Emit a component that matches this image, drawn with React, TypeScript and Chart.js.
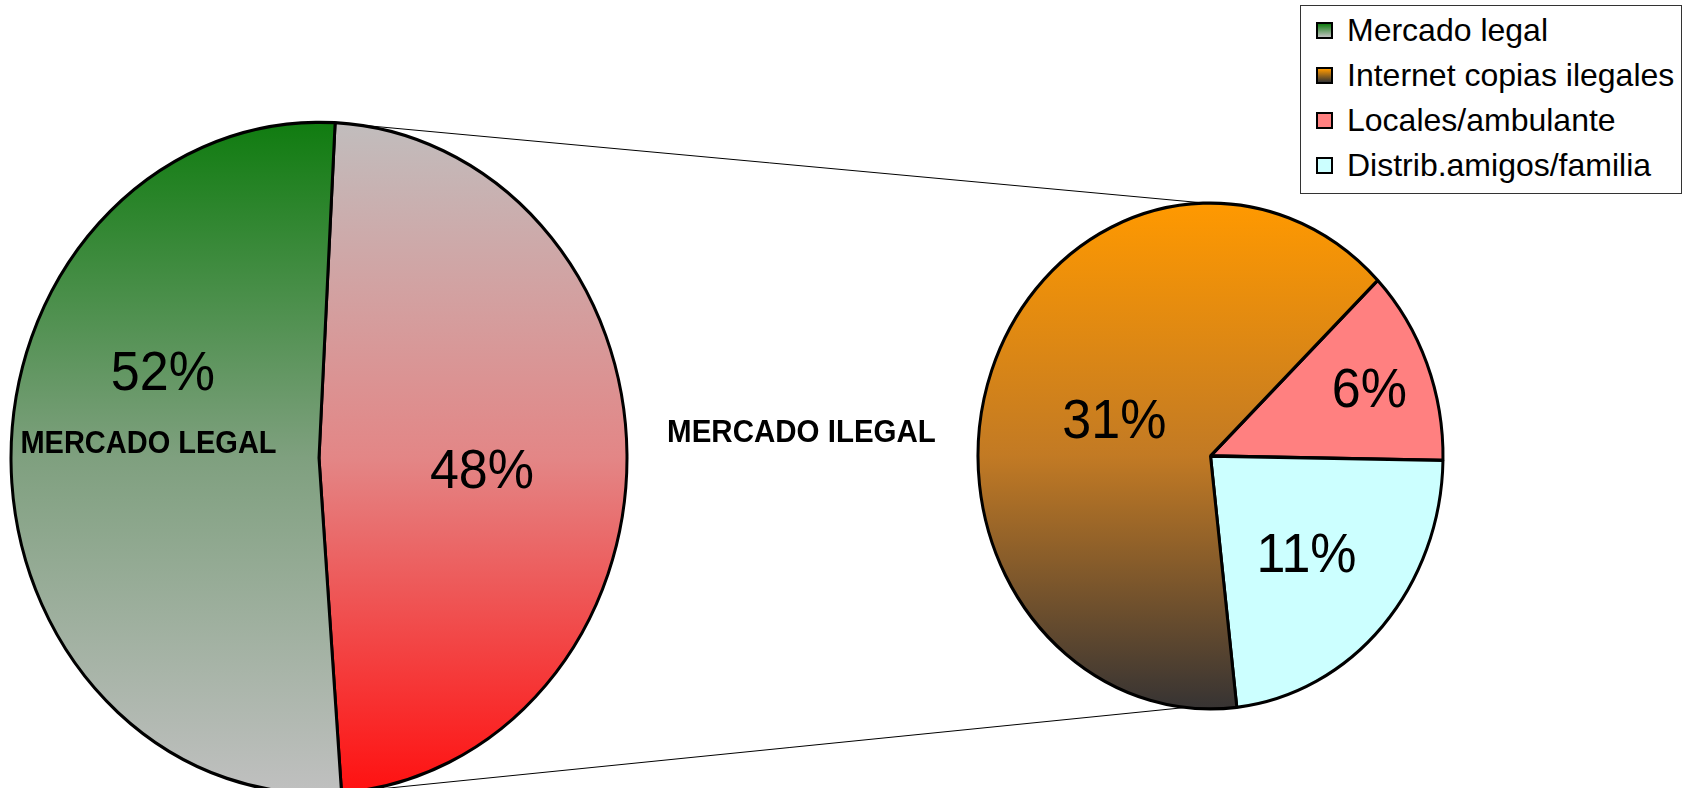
import React, { useEffect, useRef } from "react";
import { Chart, registerables } from "chart.js";

Chart.register(...registerables);

// ---------- data ----------
const mainCategories = ["Mercado ilegal", "Mercado legal"];
const mainValues = [48, 52];
const mainLabels = ["48%", "52%"];

const subCategories = ["Locales/ambulante", "Distrib.amigos/familia", "Internet copias ilegales"];
const subValues = [6, 11, 31];
const subLabels = ["6%", "11%", "31%"];

const legendLabels = ["Mercado legal", "Internet copias ilegales", "Locales/ambulante", "Distrib.amigos/familia"];
const mainTitle = "MERCADO LEGAL";
const subTitle = "MERCADO ILEGAL";

// ---------- layout / style ----------
const W = 1691;
const H = 788;
const FONT = "'Liberation Sans', Arial, sans-serif";

const LEFT = { cx: 319, cy: 458, r: 308, sy: 1.09, rotation: 3 };
const RIGHT = { cx: 1210.5, cy: 456, r: 232.5, sy: 1.088, rotation: 46 };

const mainLabelPlacement = [
  { f: 0.53, shift: 3.8 },
  { f: 0.57, shift: 27.8 },
];
const subLabelPlacement = [
  { f: 0.735, shift: -0.1 },
  { f: 0.56, shift: 0.25 },
  { f: 0.44, shift: 0.25 },
];

const legalStops: [number, string][] = [[0, "#107c10"], [0.5, "#7fa07f"], [1, "#c0c0c0"]];
const illegalStops: [number, string][] = [[0, "#c1bdbd"], [0.5, "#e38686"], [1, "#ff1010"]];
const internetStops: [number, string][] = [[0, "#ff9900"], [0.5, "#c27a24"], [1, "#363333"]];
const localesColor = "#ff8080";
const distribColor = "#ccffff";

function vGrad(chart: any, geom: any, stops: [number, string][]) {
  const g = chart.ctx.createLinearGradient(0, geom.cy - geom.r, 0, geom.cy + geom.r);
  stops.forEach(([o, c]) => g.addColorStop(o, c));
  return g;
}

function drawText(ctx: CanvasRenderingContext2D, text: string, x: number, yMid: number, size: number, bold: boolean, stretch: number) {
  ctx.save();
  ctx.font = `${bold ? "bold " : ""}${size}px ${FONT}`;
  ctx.fillStyle = "#000";
  ctx.textAlign = "center";
  ctx.textBaseline = "alphabetic";
  ctx.translate(x, yMid);
  ctx.scale(1, stretch);
  ctx.fillText(text, 0, 0.358 * size);
  ctx.restore();
}

function ellipsePlugin(geom: any) {
  return {
    id: "ellipse",
    beforeDatasetsDraw(chart: any) {
      const ctx = chart.ctx;
      ctx.save();
      ctx.translate(geom.cx, geom.cy);
      ctx.scale(1, geom.sy);
      ctx.translate(-geom.cx, -geom.cy);
    },
    afterDatasetsDraw(chart: any) {
      chart.ctx.restore();
    },
  };
}

function labelPlugin(geom: any, labels: string[], placement: { f: number; shift: number }[]) {
  return {
    id: "sliceLabels",
    afterDraw(chart: any) {
      const ctx = chart.ctx;
      const meta = chart.getDatasetMeta(0);
      meta.data.forEach((arc: any, i: number) => {
        const p = placement[i];
        const mid = (arc.startAngle + arc.endAngle) / 2 + (p.shift * Math.PI) / 180;
        const rr = p.f * arc.outerRadius;
        const x = arc.x + rr * Math.cos(mid);
        const y = arc.y + geom.sy * rr * Math.sin(mid);
        drawText(ctx, labels[i], x, y, 52, false, 1.07);
      });
    },
  };
}

const connectorPlugin = {
  id: "connectors",
  afterDraw(chart: any) {
    const ctx = chart.ctx;
    const meta = chart.getDatasetMeta(0);
    const arc = meta.data[0];
    const p0 = {
      x: arc.x + arc.outerRadius * Math.cos(arc.startAngle),
      y: arc.y + LEFT.sy * arc.outerRadius * Math.sin(arc.startAngle),
    };
    const p1 = {
      x: arc.x + arc.outerRadius * Math.cos(arc.endAngle),
      y: arc.y + LEFT.sy * arc.outerRadius * Math.sin(arc.endAngle),
    };
    const top = { x: RIGHT.cx - 6, y: RIGHT.cy - RIGHT.sy * RIGHT.r };
    const bottom = { x: RIGHT.cx - 10, y: RIGHT.cy + RIGHT.sy * RIGHT.r - 3 };
    ctx.save();
    ctx.strokeStyle = "#000";
    ctx.lineWidth = 1;
    ctx.beginPath();
    ctx.moveTo(p0.x, p0.y);
    ctx.lineTo(top.x, top.y);
    ctx.moveTo(p1.x, p1.y);
    ctx.lineTo(bottom.x, bottom.y);
    ctx.stroke();
    ctx.restore();
    // category titles
    drawText(ctx, mainTitle, LEFT.cx - 170.5, LEFT.cy - 16, 29, true, 1.07);
    const midX = (LEFT.cx + LEFT.r + RIGHT.cx - RIGHT.r) / 2;
    drawText(ctx, subTitle, midX - 1, 431, 29.5, true, 1.07);
  },
};

function Legend() {
  const swatches = [
    "linear-gradient(to bottom, #107c10, #c0c0c0)",
    "linear-gradient(to bottom, #ff9900, #333333)",
    localesColor,
    distribColor,
  ];
  return (
    <div
      style={{
        position: "absolute",
        left: 1300,
        top: 5,
        width: 382,
        height: 189,
        boxSizing: "border-box",
        border: "1px solid #333",
        background: "#fff",
        fontFamily: FONT,
        fontSize: 32,
        paddingTop: 2,
      }}
    >
      {legendLabels.map((t, i) => (
        <div key={t} style={{ position: "relative", height: 45, lineHeight: "45px", whiteSpace: "nowrap" }}>
          <div
            style={{
              position: "absolute",
              left: 15,
              top: 14,
              width: 17,
              height: 17,
              boxSizing: "border-box",
              border: "2px solid #000",
              background: swatches[i],
            }}
          />
          <span style={{ position: "absolute", left: 46, top: 0, color: "#000" }}>{t}</span>
        </div>
      ))}
    </div>
  );
}

export default function App() {
  const leftRef = useRef<HTMLCanvasElement>(null);
  const rightRef = useRef<HTMLCanvasElement>(null);

  useEffect(() => {
    const left = new Chart(leftRef.current as HTMLCanvasElement, {
      type: "pie",
      data: {
        labels: mainCategories,
        datasets: [
          {
            data: mainValues,
            backgroundColor: (c: any) =>
              c.dataIndex === 0 ? vGrad(c.chart, LEFT, illegalStops) : vGrad(c.chart, LEFT, legalStops),
            borderColor: "#000",
            borderWidth: 3,
            clip: false,
          } as any,
        ],
      },
      options: {
        responsive: false,
        animation: false,
        events: [],
        radius: LEFT.r,
        rotation: LEFT.rotation,
        layout: { padding: { left: 0, right: W - 2 * LEFT.cx, top: 2 * LEFT.cy - H, bottom: 0 } },
        plugins: { legend: { display: false }, tooltip: { enabled: false } },
      } as any,
      plugins: [ellipsePlugin(LEFT), connectorPlugin, labelPlugin(LEFT, mainLabels, mainLabelPlacement)],
    });

    const right = new Chart(rightRef.current as HTMLCanvasElement, {
      type: "pie",
      data: {
        labels: subCategories,
        datasets: [
          {
            data: subValues,
            backgroundColor: (c: any) =>
              c.dataIndex === 0 ? localesColor : c.dataIndex === 1 ? distribColor : vGrad(c.chart, RIGHT, internetStops),
            borderColor: "#000",
            borderWidth: 3,
            clip: false,
          } as any,
        ],
      },
      options: {
        responsive: false,
        animation: false,
        events: [],
        radius: RIGHT.r,
        rotation: RIGHT.rotation,
        layout: { padding: { left: 2 * RIGHT.cx - W, right: 0, top: 2 * RIGHT.cy - H, bottom: 0 } },
        plugins: { legend: { display: false }, tooltip: { enabled: false } },
      } as any,
      plugins: [ellipsePlugin(RIGHT), labelPlugin(RIGHT, subLabels, subLabelPlacement)],
    });

    return () => {
      left.destroy();
      right.destroy();
    };
  }, []);

  return (
    <div style={{ position: "absolute", left: 0, top: 0, width: W, height: H, overflow: "hidden", background: "#fff" }}>
      <canvas ref={leftRef} width={W} height={H} style={{ position: "absolute", left: 0, top: 0 }} />
      <canvas ref={rightRef} width={W} height={H} style={{ position: "absolute", left: 0, top: 0 }} />
      <Legend />
    </div>
  );
}
